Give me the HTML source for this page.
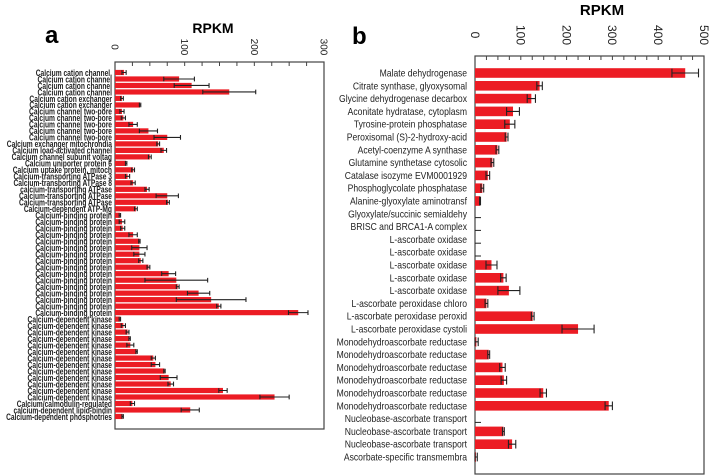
<!DOCTYPE html>
<html><head><meta charset="utf-8"><style>
html,body{margin:0;padding:0;background:#fff;}
svg{display:block;font-family:"Liberation Sans",Arial,sans-serif;}
</style></head><body>
<svg id="chart" width="709" height="476" viewBox="0 0 709 476" xmlns="http://www.w3.org/2000/svg">
<text x="45" y="43" font-size="24" font-weight="bold">a</text>
<text x="213" y="33" font-size="14" font-weight="bold" text-anchor="middle">RPKM</text>
<text x="352" y="44" font-size="24" font-weight="bold">b</text>
<text x="602" y="15" font-size="15" font-weight="bold" text-anchor="middle">RPKM</text>
<g id="pa"></g>
<g id="pb"></g>
</svg>
<script>
const aCategories = ["Calcium cation channel,","Calcium cation channel","Calcium cation channel","Calcium cation channel","Calcium cation exchanger","Calcium cation exchanger","Calcium channel two-pore","Calcium channel two-pore","Calcium channel two-pore","Calcium channel two-pore","Calcium channel two-pore","Calcium exchanger mitochrondia","Calcium load-activated channel","Calcium channel subunit voltag","Calcium uniporter protein 6","Calcium uptake protein, mitoch","Calcium-transporting ATPase 3","Calcium-transporting ATPase 8","calcium-transporting ATPase","Calcium-transporting ATPase","Calcium-transporting ATPase","Calcium-dependent ATP-Mg","Calcium-binding protein","Calcium-binding protein","Calcium-binding protein","Calcium-binding protein","Calcium-binding protein","Calcium-binding protein","Calcium-binding protein","Calcium-binding protein","Calcium-binding protein","Calcium-binding protein","Calcium-binding protein","Calcium-binding protein","Calcium-binding protein","Calcium-binding protein","Calcium-binding protein","Calcium-binding protein","Calcium-dependent kinase","Calcium-dependent kinase","Calcium-dependent kinase","Calcium-dependent kinase","Calcium-dependent kinase","Calcium-dependent kinase","Calcium-dependent kinase","Calcium-dependent kinase","Calcium-dependent kinase","Calcium-dependent kinase","Calcium-dependent kinase","Calcium-dependent kinase","Calcium-dependent kinase","Calcium/calmodulin-regulated","calcium-dependent lipid-bindin","Calcium-dependent phosphotries"];
const aValues = [13,92,110,164,10,36,10,12,26,48,75,62,70,50,16,26,18,26,46,75,76,30,7,10,11,26,35,35,35,37,48,77,88,90,120,138,149,263,7,12,18,21,22,31,55,58,71,77,80,155,229,25,108,11];
const aErrors = [3,22,25,38,2,1,3,3,6,13,19,2,4,2,1,2,3,3,3,16,2,2,1,4,3,6,1,11,8,3,2,10,45,2,16,50,3,14,1,3,2,1,5,1,3,6,1,12,4,6,21,3,13,1];
const aTicks = [0,100,200,300];

const bCategories = ["Malate dehydrogenase","Citrate synthase, glyoxysomal","Glycine dehydrogenase decarbox","Aconitate hydratase, cytoplasm","Tyrosine-protein phosphatase","Peroxisomal (S)-2-hydroxy-acid","Acetyl-coenzyme A synthase","Glutamine synthetase cytosolic","Catalase isozyme EVM0001929","Phosphoglycolate phosphatase","Alanine-glyoxylate aminotransf","Glyoxylate/succinic semialdehy","BRISC and BRCA1-A complex","L-ascorbate oxidase","L-ascorbate oxidase","L-ascorbate oxidase","L-ascorbate oxidase","L-ascorbate oxidase","L-ascorbate peroxidase chloro","L-ascorbate peroxidase peroxid","L-ascorbate peroxidase cystoli","Monodehydroascorbate reductase","Monodehydroascorbate reductase","Monodehydroascorbate reductase","Monodehydroascorbate reductase","Monodehydroascorbate reductase","Monodehydroascorbate reductase","Nucleobase-ascorbate transport","Nucleobase-ascorbate transport","Nucleobase-ascorbate transport","Ascorbate-specific transmembra"];
const bValues = [459,141,123,83,76,69,49,38,28,16,11,0,0,0,0,36,62,74,25,126,225,3,30,60,63,149,292,0,62,81,2];
const bErrors = [29,6,9,14,11,3,3,3,4,3,1,0,0,0,0,12,6,24,3,3,35,4,2,6,6,7,8,0,2,8,3];
const bTicks = [0,100,200,300,400,500];

const NS="http://www.w3.org/2000/svg";
function mk(parent,tag,attrs){const e=document.createElementNS(NS,tag);for(const k in attrs)e.setAttribute(k,attrs[k]);parent.appendChild(e);return e;}

function panel(g,cfg,cats,vals,errs,ticks){
  const {x0,x1,top,bot,max,first,step,barH,labX,fs,bold,sx,tickY,tickFs,minor}=cfg;
  const xs=v=>x0+(v/max)*(x1-x0);
  const ys=i=>first+i*step;
  let r=mk(g,'rect',{x:x0,y:top,width:x1-x0,height:bot-top,fill:'none',stroke:'#444','stroke-width':1.2});
  
  
  for(let v=0;v<=max+0.001;v+=minor){
    let t=mk(g,'line',{x1:xs(v),x2:xs(v),y1:top,y2:top+4,stroke:'#444','stroke-width':1});
    
    
  }
  ticks.forEach(v=>{
    let t=mk(g,'text',{transform:`translate(${xs(v)-tickFs*0.35},${tickY}) rotate(90)`,'font-size':tickFs,'text-anchor':'middle',fill:'#222'});
    t.textContent=v;
    
    
  });
  cats.forEach((c,i)=>{
    const y=ys(i);
    let tg=mk(g,'g',{transform:`translate(${labX},${y+fs*0.35}) scale(${sx},1)`});
    let t=mk(tg,'text',{x:0,y:0,'font-size':fs,'font-weight':bold?'bold':'normal','text-anchor':'end',fill:'#222'});
    t.textContent=c;
    
    
    const v=vals[i],e=errs[i];
    if(v>0){
      let b=mk(g,'rect',{x:x0,y:y-barH/2,width:xs(v)-x0,height:barH,fill:'#ec1c24'});
      
      
    }
    if(v<=0&&e<=0){
      let d=mk(g,'line',{x1:x0,x2:x0+6,y1:y+barH/2-1,y2:y+barH/2-1,stroke:'#222','stroke-width':1});
      
      
    }else{
      const lo=Math.max(0,v-e),hi=v+e,h=barH*0.45;
      let eb=mk(g,'path',{d:`M${xs(lo)},${y}H${xs(hi)}M${xs(lo)},${y-h}V${y+h}M${xs(hi)},${y-h}V${y+h}`,stroke:'#222','stroke-width':1.1,fill:'none'});
      
      
    }
  });
}
panel(document.getElementById('pa'),{x0:115,x1:324,top:62,bot:429,max:300,first:72.5,step:6.49,barH:5.2,labX:112,fs:9.4,bold:true,sx:0.71,tickY:47,tickFs:10,minor:25},aCategories,aValues,aErrors,aTicks);
panel(document.getElementById('pb'),{x0:475,x1:704,top:56,bot:474,max:500,first:73,step:12.8,barH:9.6,labX:467,fs:10,bold:false,sx:0.86,tickY:35,tickFs:12,minor:25},bCategories,bValues,bErrors,bTicks);
</script>
</body></html>
